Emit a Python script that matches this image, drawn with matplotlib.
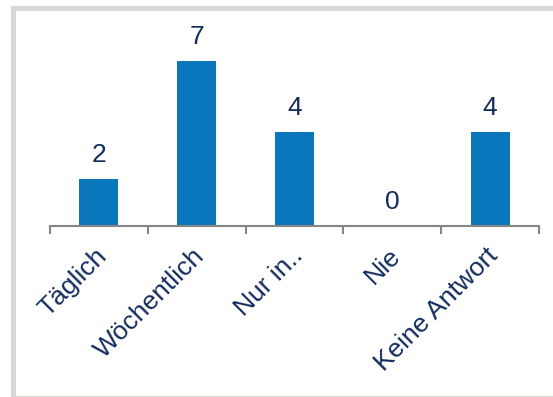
import matplotlib.pyplot as plt
from matplotlib.patches import Rectangle

categories = ['Täglich', 'Wöchentlich', 'Nur in..', 'Nie', 'Keine Antwort']
values = [2, 7, 4, 0, 4]

bar_color = '#0a77bd'
text_color = '#132c5e'

plt.rcParams['font.family'] = ['Liberation Sans', 'DejaVu Sans']

W, H = 553, 397
fig = plt.figure(figsize=(W / 100, H / 100), dpi=100)

# grey frame around the chart area
frame = Rectangle((12.5 / W, 1 - 397.5 / H), (600 - 12.5) / W, (397.5 - 7.5) / H,
                  transform=fig.transFigure, fill=False, edgecolor='#dbd7d3',
                  linewidth=3.6, clip_on=False)
fig.patches.append(frame)

ax = fig.add_axes([50 / W, (H - 225.5) / H, (539 - 50) / W, (225.5 - 37.5) / H])
x = range(len(categories))
ax.bar(x, values, width=0.4, color=bar_color)
ax.set_xlim(-0.5, len(categories) - 0.5)
ax.set_ylim(0, 8)

for xi, v in zip(x, values):
    ax.annotate(str(v), (xi, v), xytext=(0, 8.5), textcoords='offset points',
                ha='center', va='bottom', fontsize=19, color=text_color,
                annotation_clip=False)

for side in ['top', 'right', 'left']:
    ax.spines[side].set_visible(False)
ax.spines['bottom'].set_color('#868686')
ax.spines['bottom'].set_linewidth(1.5)
ax.set_yticks([])

ax.set_xticks([i - 0.5 for i in range(len(categories) + 1)])
ax.set_xticklabels([])
ax.tick_params(axis='x', length=5.5, width=1.5, color='#868686')

for xi, name in zip(x, categories):
    ax.annotate(name, (xi, 0), xytext=(3, -19), textcoords='offset points',
                rotation=45, rotation_mode='anchor', ha='right', va='center',
                fontsize=19, color=text_color, annotation_clip=False)

fig.savefig('out.png', dpi=100)
